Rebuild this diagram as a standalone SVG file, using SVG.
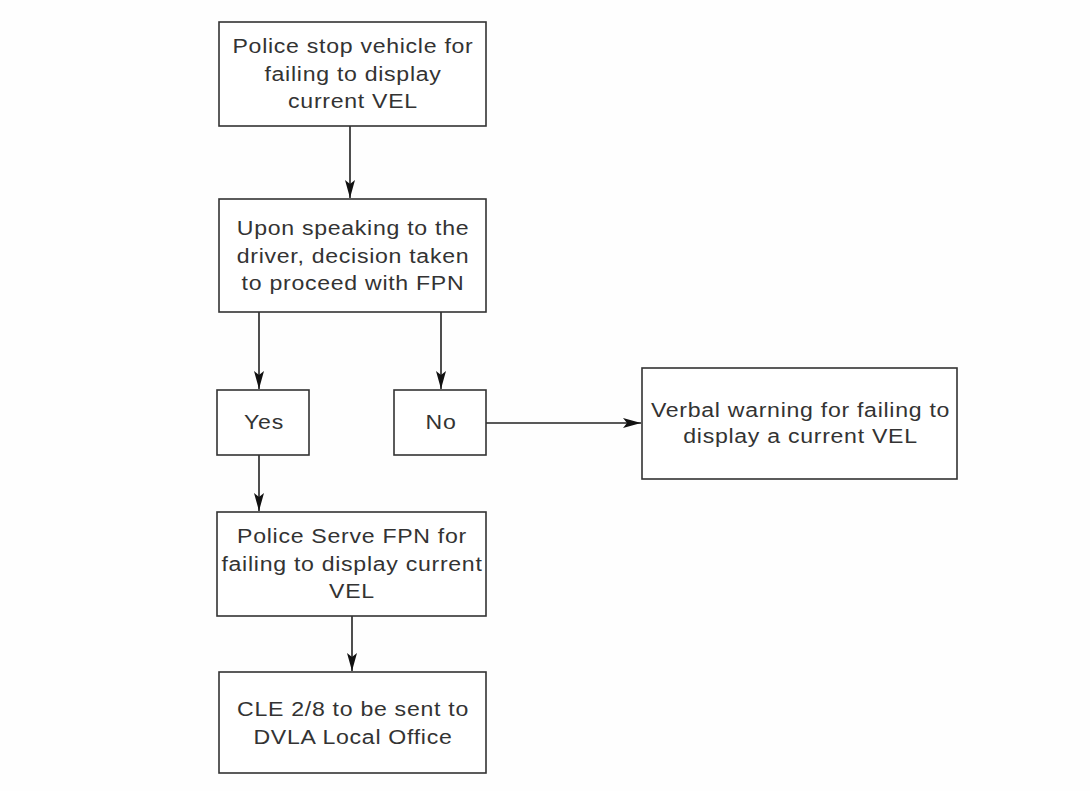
<svg xmlns="http://www.w3.org/2000/svg" width="1090" height="791" viewBox="0 0 1090 791">
  <style>
    .box { fill: #ffffff; stroke: #333333; stroke-width: 1.6; }
    .lbl { font-family: "Liberation Sans", Arial, sans-serif; font-size: 21px; letter-spacing: 0.65px; fill: #333333; text-anchor: middle;
           transform-box: fill-box; transform-origin: center; transform: scaleX(1.1); }
    .link { stroke: #222222; stroke-width: 1.6; fill: none; marker-end: url(#head); }
  </style>
  <defs>
    <marker id="head" viewBox="0 0 18 10" refX="18" refY="5" markerWidth="18" markerHeight="10" markerUnits="userSpaceOnUse" orient="auto">
      <path d="M0,0 L18,5 L0,10 L4,5 Z" fill="#111111"/>
    </marker>
  </defs>
  <rect width="1090" height="791" fill="#fefefe"/>

  <g id="connectors">
    <line class="link" x1="350" y1="126" x2="350" y2="198"/>
    <line class="link" x1="259" y1="312" x2="259" y2="389"/>
    <line class="link" x1="441" y1="312" x2="441" y2="389"/>
    <line class="link" x1="486" y1="423" x2="641" y2="423"/>
    <line class="link" x1="259" y1="455" x2="259" y2="511"/>
    <line class="link" x1="352" y1="616" x2="352" y2="671"/>
  </g>

  <g id="stop-vehicle">
    <rect class="box" x="219" y="22" width="267" height="104"/>
    <text class="lbl" x="353" y="53">Police stop vehicle for</text>
    <text class="lbl" x="353" y="81">failing to display</text>
    <text class="lbl" x="353" y="108">current VEL</text>
  </g>

  <g id="speak-driver">
    <rect class="box" x="219" y="199" width="267" height="113"/>
    <text class="lbl" x="353" y="235">Upon speaking to the</text>
    <text class="lbl" x="353" y="263">driver, decision taken</text>
    <text class="lbl" x="353" y="290">to proceed with FPN</text>
  </g>

  <g id="yes">
    <rect class="box" x="217" y="390" width="92" height="65"/>
    <text class="lbl" x="264" y="429">Yes</text>
  </g>

  <g id="no">
    <rect class="box" x="394" y="390" width="92" height="65"/>
    <text class="lbl" x="441" y="429">No</text>
  </g>

  <g id="verbal-warning">
    <rect class="box" x="642" y="368" width="315" height="111"/>
    <text class="lbl" x="800.5" y="417">Verbal warning for failing to</text>
    <text class="lbl" x="800.5" y="443">display a current VEL</text>
  </g>

  <g id="serve-fpn">
    <rect class="box" x="217" y="512" width="269" height="104"/>
    <text class="lbl" x="352" y="543">Police Serve FPN for</text>
    <text class="lbl" x="352" y="571">failing to display current</text>
    <text class="lbl" x="352" y="598">VEL</text>
  </g>

  <g id="cle-form">
    <rect class="box" x="219" y="672" width="267" height="101"/>
    <text class="lbl" x="353" y="716">CLE 2/8 to be sent to</text>
    <text class="lbl" x="353" y="744">DVLA Local Office</text>
  </g>
</svg>
